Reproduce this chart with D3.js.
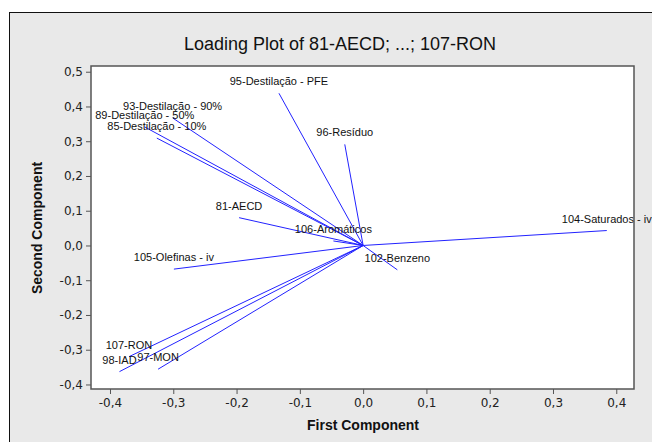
<!DOCTYPE html>
<html>
<head>
<meta charset="utf-8">
<script src="https://cdn.jsdelivr.net/npm/d3@7"></script>
<style>
  body { margin: 0; background: #fff; }
  text { font-family: "Liberation Sans", Arial, sans-serif; }
</style>
</head>
<body>
<div id="chart"></div>
<script>
// --- Data: loadings ---
const variables = [
  "81-AECD", "85-Destilação - 10%", "89-Destilação - 50%", "93-Destilação - 90%",
  "95-Destilação - PFE", "96-Resíduo", "97-MON", "98-IAD", "102-Benzeno",
  "104-Saturados - iv", "105-Olefinas - iv", "106-Aromáticos", "107-RON"
];
const firstComponent = [
  -0.196, -0.326, -0.345, -0.301, -0.133, -0.029, -0.324, -0.385, 0.054,
  0.385, -0.299, -0.047, -0.370
];
const secondComponent = [
  0.080, 0.309, 0.341, 0.367, 0.438, 0.291, -0.356, -0.363, -0.070,
  0.043, -0.068, 0.013, -0.320
];
const xTicks = [-0.4, -0.3, -0.2, -0.1, 0.0, 0.1, 0.2, 0.3, 0.4];
const yTicks = [-0.4, -0.3, -0.2, -0.1, 0.0, 0.1, 0.2, 0.3, 0.4, 0.5];

const width = 652, height = 442;
const plot = { left: 91, top: 66, right: 634, bottom: 389 };
const fmt = (d) => d3.format(".1f")(d).replace(".", ",").replace("−", "-");

const svg = d3.select("#chart").append("svg")
  .attr("width", width)
  .attr("height", height);

// Outer frame
svg.append("rect")
  .attr("x", 9.5).attr("y", 12.5)
  .attr("width", 660).attr("height", 460)
  .attr("fill", "#e9e9e9")
  .attr("stroke", "#111")
  .attr("stroke-width", 1);

// Plot area
svg.append("rect")
  .attr("x", plot.left).attr("y", plot.top)
  .attr("width", plot.right - plot.left)
  .attr("height", plot.bottom - plot.top)
  .attr("fill", "#fff");

const x = d3.scaleLinear().domain([-0.43, 0.428]).range([plot.left, plot.right]);
const y = d3.scaleLinear().domain([-0.413, 0.5165]).range([plot.bottom, plot.top]);

// Title
svg.append("text")
  .attr("x", 340).attr("y", 50)
  .attr("text-anchor", "middle")
  .style("font-size", "18px")
  .style("fill", "#111")
  .text("Loading Plot of 81-AECD; ...; 107-RON");

// Axes
const xAxis = svg.append("g")
  .attr("transform", `translate(0,${plot.bottom})`)
  .call(d3.axisBottom(x).tickValues(xTicks).tickFormat(fmt).tickSize(5).tickPadding(4));
const yAxis = svg.append("g")
  .attr("transform", `translate(${plot.left},0)`)
  .call(d3.axisLeft(y).tickValues(yTicks).tickFormat(fmt).tickSize(5).tickPadding(3));

[xAxis, yAxis].forEach((g) => {
  g.select(".domain").remove();
  g.selectAll(".tick line").attr("stroke", "#555");
  g.selectAll(".tick text")
    .style("font-family", "'DejaVu Sans', sans-serif")
    .style("font-size", "12px")
    .attr("fill", "#222");
});

// Axis titles
svg.append("text")
  .attr("x", 363).attr("y", 430)
  .attr("text-anchor", "middle")
  .style("font-size", "14px")
  .style("font-weight", "bold")
  .style("fill", "#111")
  .text("First Component");

svg.append("text")
  .attr("transform", `translate(42,228) rotate(-90)`)
  .attr("text-anchor", "middle")
  .style("font-size", "14px")
  .style("font-weight", "bold")
  .style("fill", "#111")
  .text("Second Component");

// Loading vectors
const rows = variables.map((name, i) => ({
  name: name, pc1: firstComponent[i], pc2: secondComponent[i]
}));

svg.append("g").selectAll("line")
  .data(rows)
  .enter()
  .append("line")
  .attr("x1", x(0)).attr("y1", y(0))
  .attr("x2", (d) => x(d.pc1))
  .attr("y2", (d) => y(d.pc2))
  .attr("stroke", "#2222ff")
  .attr("stroke-width", 1);

svg.append("g").selectAll("text")
  .data(rows)
  .enter()
  .append("text")
  .attr("x", (d) => x(d.pc1))
  .attr("y", (d) => y(d.pc2) - 8)
  .attr("text-anchor", "middle")
  .style("font-size", "11px")
  .style("fill", "#111")
  .text((d) => d.name);

// Plot border on top
svg.append("rect")
  .attr("x", plot.left).attr("y", plot.top)
  .attr("width", plot.right - plot.left)
  .attr("height", plot.bottom - plot.top)
  .attr("fill", "none")
  .attr("stroke", "#555")
  .attr("stroke-width", 1.5);
</script>
</body>
</html>
